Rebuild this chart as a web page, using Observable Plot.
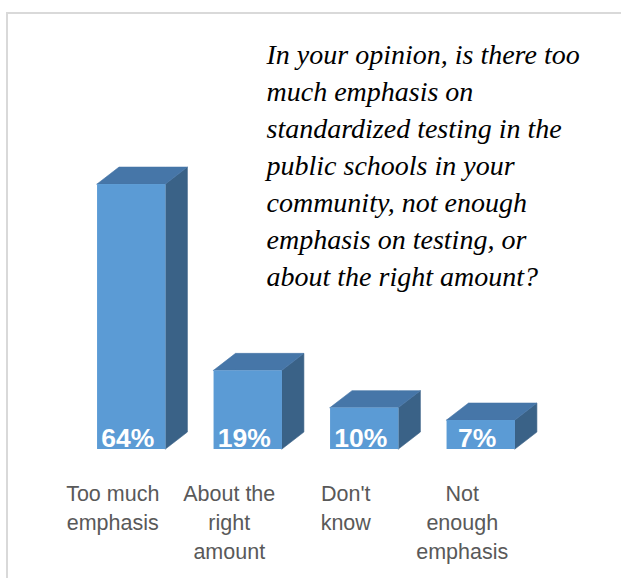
<!DOCTYPE html>
<html>
<head>
<meta charset="utf-8">
<script src="https://cdn.jsdelivr.net/npm/d3@7"></script>
<script src="https://cdn.jsdelivr.net/npm/@observablehq/plot@0.6"></script>
<style>
  html, body { margin: 0; padding: 0; background: #fff; overflow: hidden; }
  #wrap { position: relative; width: 621px; height: 578px; }
  #border { position: absolute; left: 6px; top: 12px; width: 700px; height: 700px;
            border-left: 2px solid #d9d9d9; border-top: 2px solid #d9d9d9; pointer-events: none; }
  #chart { position: absolute; left: 0; top: 0; }
</style>
</head>
<body>
<div id="wrap"><div id="border"></div><div id="chart"></div></div>
<script>
const categories = ["Too much\nemphasis", "About the\nright\namount", "Don't\nknow", "Not\nenough\nemphasis"];
const values = [64, 19, 10, 7];
const question = "In your opinion, is there too\nmuch emphasis on\nstandardized testing in the\npublic schools in your\ncommunity, not enough\nemphasis on testing, or\nabout the right amount?";

// 3D box geometry (in scale units)
const HALF = 0.2935;   // half the front face width (category units)
const DX = 0.1885;     // depth, horizontal
const DY = 4.1;        // depth, vertical (value units)

const rows = categories.map((c, i) => ({i, c, v: values[i]}));
const tops = rows.flatMap(d => {
  const x0 = d.i - HALF, x1 = d.i + HALF;
  return [
    {k: d.i, x: x0, y1: d.v, y2: d.v},
    {k: d.i, x: x0 + DX, y1: d.v, y2: d.v + DY},
    {k: d.i, x: x1, y1: d.v, y2: d.v + DY},
    {k: d.i, x: x1 + DX, y1: d.v + DY, y2: d.v + DY}
  ];
});
const sides = rows.flatMap(d => {
  const x1 = d.i + HALF;
  return [
    {k: d.i, x: x1, y1: 0, y2: d.v},
    {k: d.i, x: x1 + DX, y1: DY, y2: d.v + DY}
  ];
});

const FRONT = "#5b9bd5", TOP = "#4676a8", SIDE = "#3a6287";

const chart = Plot.plot({
  width: 621,
  height: 578,
  marginLeft: 73,
  marginRight: 82,
  marginTop: 35,
  marginBottom: 129,
  x: {type: "linear", domain: [-0.5, 3.5], axis: null},
  y: {domain: [0, 100], axis: null},
  marks: [
    Plot.area(sides, {x1: "x", y1: "y1", y2: "y2", z: "k", fill: SIDE, stroke: SIDE, strokeWidth: 0.6}),
    Plot.area(tops, {x1: "x", y1: "y1", y2: "y2", z: "k", fill: TOP, stroke: TOP, strokeWidth: 0.6}),
    Plot.rect(rows, {x1: d => d.i - HALF, x2: d => d.i + HALF, y1: 0, y2: "v", fill: FRONT}),
    Plot.text(rows, {x: "i", y: 0, text: d => d.v + "%", fill: "white", fontWeight: "bold",
      fontSize: 26.5, fontFamily: "Liberation Sans, Arial, sans-serif", lineAnchor: "bottom", dy: -3, dx: -4}),
    Plot.text(rows, {x: "i", y: 0, text: "c", fill: "#595959", fontSize: 21.5,
      fontFamily: "Liberation Sans, Arial, sans-serif", lineAnchor: "top", lineHeight: 1.34, dy: 31, dx: -19}),
    Plot.text([question], {text: d => d, frameAnchor: "top-left", textAnchor: "start", lineAnchor: "top",
      dx: 193, dy: 2, fontSize: 28, fontStyle: "italic", fill: "#000",
      fontFamily: "Liberation Serif, Times New Roman, serif", lineHeight: 1.32})
  ]
});
document.getElementById("chart").appendChild(chart);
</script>
</body>
</html>
